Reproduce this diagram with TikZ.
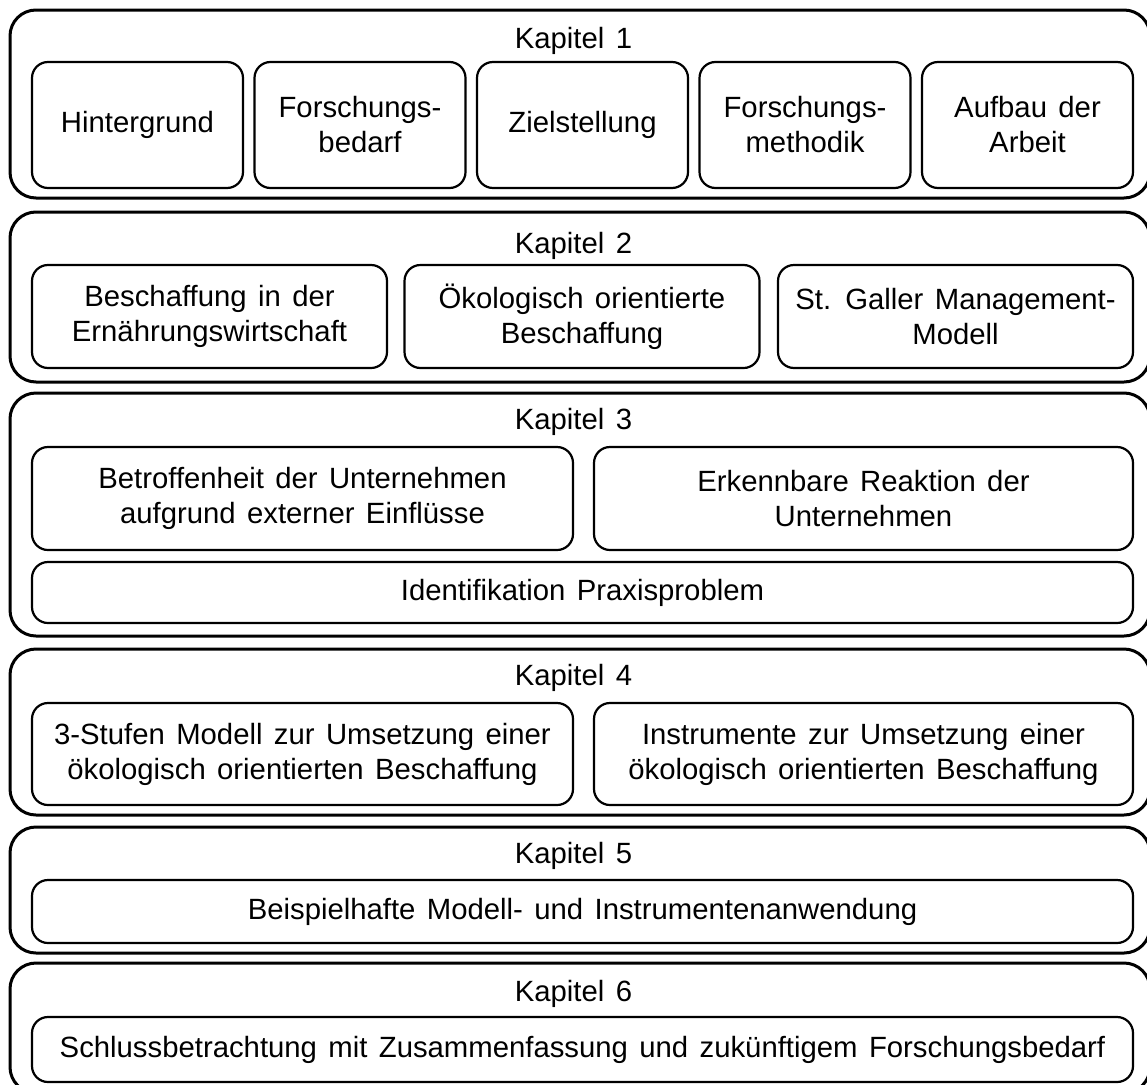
\documentclass[tikz,border=0pt]{standalone}
\usepackage{fontspec}
\setmainfont[WordSpace=1.4]{Liberation Sans}
\begin{document}
\begin{tikzpicture}[x=1pt,y=-1pt,
  outerbox/.style={draw, line width=3pt, rounded corners=26pt, minimum width=1140pt, inner sep=0pt},
  innerbox/.style={draw, line width=2.2pt, rounded corners=16pt, align=center, inner sep=0pt,
    font=\fontsize{29.3}{35}\selectfont},
  title/.style={anchor=base, inner sep=0pt, font=\fontsize{29.3}{35}\selectfont}]
\useasboundingbox (0,0) rectangle (1147,1084);
\clip (0,0) rectangle (1147,1084);
\fill[white] (0,0) rectangle (1147,1084);

% outer chapter boxes
\node[outerbox, minimum height=188pt] (k1) at (580,104) {};
\node[outerbox, minimum height=170pt] (k2) at (580,297) {};
\node[outerbox, minimum height=243pt] (k3) at (580,514.5) {};
\node[outerbox, minimum height=166pt] (k4) at (580,732) {};
\node[outerbox, minimum height=126pt] (k5) at (580,890) {};
\node[outerbox, minimum height=130pt] (k6) at (580,1028) {};

% titles
\node[title] (t1) at (573.5,48.3) {Kapitel 1};
\node[title] (t2) at (573.5,253.3) {Kapitel 2};
\node[title] (t3) at (573.5,429.3) {Kapitel 3};
\node[title] (t4) at (573.5,685.7) {Kapitel 4};
\node[title] (t5) at (573.5,863.3) {Kapitel 5};
\node[title] (t6) at (573.5,1001) {Kapitel 6};

% Kapitel 1
\node[innerbox, minimum width=211pt, minimum height=126pt] (b11) at (137.5,125) {Hintergrund};
\node[innerbox, minimum width=211pt, minimum height=126pt] (b12) at (360,125) {Forschungs-\\bedarf};
\node[innerbox, minimum width=211pt, minimum height=126pt] (b13) at (582.5,125) {Zielstellung};
\node[innerbox, minimum width=211pt, minimum height=126pt] (b14) at (805,125) {Forschungs-\\methodik};
\node[innerbox, minimum width=211pt, minimum height=126pt] (b15) at (1027.5,125) {Aufbau der\\Arbeit};

% Kapitel 2
\node[innerbox, minimum width=355pt, minimum height=103pt] (b21) at (209.5,316.5) {Beschaffung in der\\Ernährungswirtschaft};
\node[innerbox, minimum width=355pt, minimum height=103pt] (b22) at (582,316.5) {Ökologisch orientierte\\Beschaffung};
\node[innerbox, minimum width=355pt, minimum height=103pt] (b23) at (955.5,316.5) {St. Galler Management-\\Modell};

% Kapitel 3
\node[innerbox, minimum width=541pt, minimum height=103pt] (b31) at (302.5,498.5) {Betroffenheit der Unternehmen\\aufgrund externer Einflüsse};
\node[innerbox, minimum width=539pt, minimum height=103pt] (b32) at (863.5,498.5) {Erkennbare Reaktion der\\Unternehmen};
\node[innerbox, minimum width=1101pt, minimum height=61pt] (b33) at (582.5,592.5) {Identifikation Praxisproblem};

% Kapitel 4
\node[innerbox, minimum width=541pt, minimum height=102pt] (b41) at (302.5,754) {3-Stufen Modell zur Umsetzung einer\\ökologisch orientierten Beschaffung};
\node[innerbox, minimum width=539pt, minimum height=102pt] (b42) at (863.5,754) {Instrumente zur Umsetzung einer\\ökologisch orientierten Beschaffung};

% Kapitel 5
\node[innerbox, minimum width=1101pt, minimum height=63pt] (b51) at (582.5,911.5) {Beispielhafte Modell- und Instrumentenanwendung};

% Kapitel 6
\node[innerbox, minimum width=1101pt, minimum height=65pt] (b61) at (582.5,1049.5) {Schlussbetrachtung mit Zusammenfassung und zukünftigem Forschungsbedarf};
\end{tikzpicture}
\end{document}
